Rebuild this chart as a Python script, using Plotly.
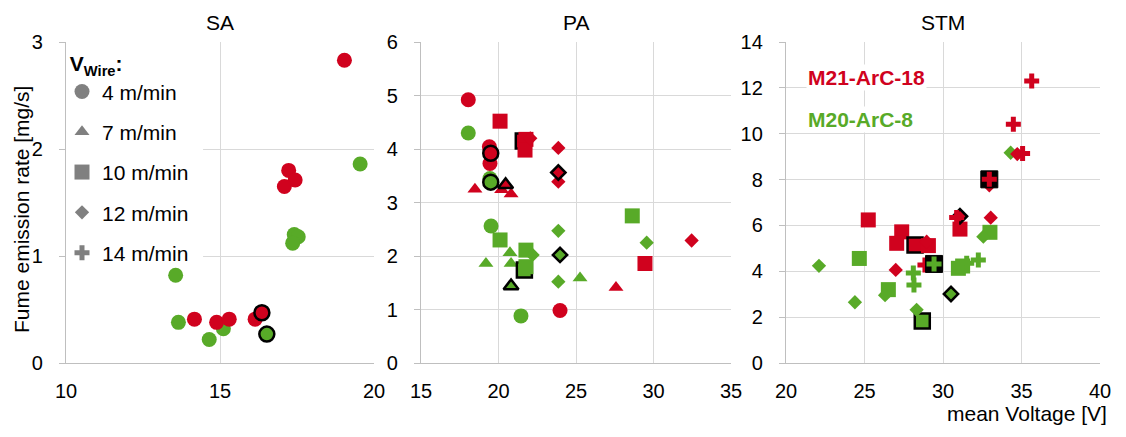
import plotly.graph_objects as go

# wire feed speeds and their marker symbols
WIRE_SPEEDS = [4, 7, 10, 12, 14]
WIRE_LABELS = ["4 m/min", "7 m/min", "10 m/min", "12 m/min", "14 m/min"]
SYMBOLS = ["circle", "triangle-up", "square", "diamond", "cross"]
SIZES = [15, 13, 15, 11, 12.5]

RED = "rgb(208,2,30)"
GREEN = "rgb(88,170,40)"
GAS_RED = "M21-ArC-18"
GAS_GREEN = "M20-ArC-8"

# SA (short arc)
SA_RED_V = [19.04, 17.23, 17.44, 17.09, 14.17, 14.89, 15.30, 16.14, 16.36]
SA_RED_RATE = [2.83, 1.80, 1.71, 1.65, 0.41, 0.38, 0.41, 0.41, 0.47]
SA_RED_WIRE = [4, 4, 4, 4, 4, 4, 4, 4, 4]
SA_RED_MEAN = [0, 0, 0, 0, 0, 0, 0, 0, 1]

SA_GREEN_V = [19.55, 17.41, 17.54, 17.36, 13.56, 13.65, 14.65, 15.11, 16.52]
SA_GREEN_RATE = [1.86, 1.20, 1.18, 1.12, 0.82, 0.38, 0.22, 0.32, 0.27]
SA_GREEN_WIRE = [4, 4, 4, 4, 4, 4, 4, 4, 4]
SA_GREEN_MEAN = [0, 0, 0, 0, 0, 0, 0, 0, 1]

# PA (pulsed arc)
PA_RED_V = [18.05, 19.41, 19.45, 23.97, 19.50,
            18.48, 20.20, 20.81, 27.58, 20.46,
            21.60, 20.10, 21.77, 21.71, 29.45,
            22.05, 23.86, 23.86, 32.46, 23.86]
PA_RED_RATE = [4.92, 4.04, 3.73, 0.98, 3.92,
               3.25, 3.24, 3.16, 1.41, 3.33,
               4.15, 4.52, 4.18, 3.98, 1.86,
               4.20, 4.02, 3.39, 2.29, 3.56]
PA_RED_WIRE = [4, 4, 4, 4, 4,
               7, 7, 7, 7, 7,
               10, 10, 10, 10, 10,
               12, 12, 12, 12, 12]
PA_RED_MEAN = [0, 0, 0, 0, 1,
               0, 0, 0, 0, 1,
               1, 0, 0, 0, 0,
               0, 0, 0, 0, 1]

PA_GREEN_V = [18.05, 19.45, 19.52, 21.45, 19.50,
              19.19, 20.74, 20.81, 25.26, 20.81,
              21.67, 20.10, 21.77, 21.77, 28.63,
              22.20, 23.86, 23.86, 29.56, 23.97]
PA_GREEN_RATE = [4.30, 3.45, 2.56, 0.88, 3.38,
                 1.86, 2.06, 1.86, 1.59, 1.44,
                 1.74, 2.30, 2.11, 1.80, 2.75,
                 2.02, 2.47, 1.52, 2.25, 2.02]
PA_GREEN_WIRE = [4, 4, 4, 4, 4,
                 7, 7, 7, 7, 7,
                 10, 10, 10, 10, 10,
                 12, 12, 12, 12, 12]
PA_GREEN_MEAN = [0, 0, 0, 0, 1,
                 0, 0, 0, 0, 1,
                 1, 0, 0, 0, 0,
                 0, 0, 0, 0, 1]

# STM
STM_RED_V = [25.24, 27.37, 27.05, 28.22, 29.07, 31.08,
             31.08, 26.99, 28.96, 33.04, 34.73, 32.95,
             35.65, 34.48, 35.07, 32.95, 30.87, 28.85]
STM_RED_RATE = [6.24, 5.72, 5.22, 5.15, 5.12, 5.84,
                6.40, 4.06, 5.29, 6.34, 9.11, 7.75,
                12.30, 10.41, 9.14, 8.01, 6.35, 4.27]
STM_RED_WIRE = [10, 10, 10, 10, 10, 10,
                12, 12, 12, 12, 12, 12,
                14, 14, 14, 14, 14, 14]
STM_RED_MEAN = [0, 0, 0, 1, 0, 0,
                1, 0, 0, 0, 0, 0,
                0, 0, 0, 1, 0, 0]

STM_GREEN_V = [24.67, 26.52, 28.68, 30.98, 31.25, 32.99,
               22.10, 24.39, 26.31, 28.32, 30.51, 32.57, 34.31,
               28.11, 28.15, 29.43, 31.51, 32.25]
STM_GREEN_RATE = [4.56, 3.20, 1.83, 4.13, 4.23, 5.70,
                  4.24, 2.65, 2.96, 2.32, 3.01, 5.51, 9.17,
                  3.93, 3.40, 4.32, 4.35, 4.49]
STM_GREEN_WIRE = [10, 10, 10, 10, 10, 10,
                  12, 12, 12, 12, 12, 12, 12,
                  14, 14, 14, 14, 14]
STM_GREEN_MEAN = [0, 0, 1, 0, 0, 0,
                  0, 0, 0, 0, 1, 0, 0,
                  0, 0, 1, 0, 0]

PANELS = ["SA", "PA", "STM"]
Y_MAX = [3, 6, 14]
Y_STEP = [1, 1, 2]
X_RANGES = [[10, 20], [15, 35], [20, 40]]

panel_data = [
    [(GREEN, SA_GREEN_V, SA_GREEN_RATE, SA_GREEN_WIRE, SA_GREEN_MEAN),
     (RED, SA_RED_V, SA_RED_RATE, SA_RED_WIRE, SA_RED_MEAN)],
    [(GREEN, PA_GREEN_V, PA_GREEN_RATE, PA_GREEN_WIRE, PA_GREEN_MEAN),
     (RED, PA_RED_V, PA_RED_RATE, PA_RED_WIRE, PA_RED_MEAN)],
    [(GREEN, STM_GREEN_V, STM_GREEN_RATE, STM_GREEN_WIRE, STM_GREEN_MEAN),
     (RED, STM_RED_V, STM_RED_RATE, STM_RED_WIRE, STM_RED_MEAN)],
]

# the page body adds 8px around the figure, so the figure is drawn 8px smaller
OFF = 8
W, H = 1126 - OFF, 437 - OFF
FONT = "Liberation Sans, Arial, sans-serif"


def fx(px):
    return (px - OFF) / W


def fy(py):
    return (H - (py - OFF)) / H


x_px = [(66, 374), (421, 731), (786, 1100)]
y_dom = [fy(363), fy(42)]

fig = go.Figure()

# legend entries (grey symbols)
for k, w in enumerate(WIRE_SPEEDS):
    fig.add_trace(go.Scatter(
        x=[None], y=[None], mode="markers", name=WIRE_LABELS[k],
        legendgroup=str(w), showlegend=True,
        marker=dict(symbol=SYMBOLS[k], size=SIZES[k], color="#808080", line=dict(width=0)),
    ))

for p in range(3):
    xa = "x" if p == 0 else "x%d" % (p + 1)
    ya = "y" if p == 0 else "y%d" % (p + 1)
    for k, w in enumerate(WIRE_SPEEDS):
        gases = panel_data[p] if w != 14 else panel_data[p][::-1]
        for color, vs, rs, ws, ms in gases:
            idx = [i for i in range(len(vs)) if ws[i] == w]
            if not idx:
                continue
            xs = [vs[i] for i in idx]
            ys = [rs[i] for i in idx]
            means = [ms[i] for i in idx]
            if w == 14:
                # averaged cross points sit on a black tile
                mx = [x for x, m in zip(xs, means) if m]
                my = [y for y, m in zip(ys, means) if m]
                if mx:
                    fig.add_trace(go.Scatter(
                        x=mx, y=my, xaxis=xa, yaxis=ya, mode="markers", showlegend=False,
                        marker=dict(symbol="square", size=17, color="black",
                                    line=dict(width=1, color="black")),
                    ))
                lw = [0] * len(xs)
            else:
                lw = [2.5 if m else 0 for m in means]
            fig.add_trace(go.Scatter(
                x=xs, y=ys, xaxis=xa, yaxis=ya, mode="markers", showlegend=False,
                legendgroup=str(w),
                marker=dict(symbol=SYMBOLS[k], size=SIZES[k], color=color,
                            line=dict(width=lw, color="black")),
            ))

axis_common = dict(
    showline=True, linecolor="#BFBFBF", linewidth=1.3,
    showgrid=True, gridcolor="#D9D9D9", gridwidth=1,
    zeroline=False, automargin=False,
    tickfont=dict(size=20, color="black", family=FONT),
)
layout = dict(
    template="none",
    width=W, height=H,
    margin=dict(l=0, r=0, t=0, b=0, autoexpand=False),
    paper_bgcolor="white", plot_bgcolor="white",
    font=dict(family=FONT, size=21, color="black"),
    showlegend=True,
    legend=dict(
        x=fx(62), y=fy(44), xanchor="left", yanchor="top",
        bgcolor="rgba(0,0,0,0)", borderwidth=0,
        title=dict(text="<b>&nbsp;V<sub>Wire</sub>:</b>", font=dict(size=21)),
        font=dict(size=21, color="black"),
        tracegroupgap=10, itemsizing="trace",
    ),
)
for p in range(3):
    sx = "" if p == 0 else str(p + 1)
    layout["xaxis" + sx] = dict(
        axis_common, domain=[fx(x_px[p][0]), fx(x_px[p][1])],
        range=X_RANGES[p], dtick=5, ticks="", ticklabelstandoff=10,
        anchor="y" + sx, fixedrange=True,
    )
    layout["yaxis" + sx] = dict(
        axis_common, domain=y_dom, range=[0, Y_MAX[p]], dtick=Y_STEP[p],
        ticks="outside", ticklen=6, tickcolor="#BFBFBF", ticklabelstandoff=12,
        anchor="x" + sx, fixedrange=True,
    )
fig.update_layout(**layout)

# white box behind the legend, over the gridlines
fig.add_shape(type="rect", xref="x", yref="y", x0=10, x1=14.45, y0=0.85, y1=2.93,
              fillcolor="white", line=dict(width=0), layer="between")

# panel titles
for p, name in enumerate(PANELS):
    fig.add_annotation(x=fx((x_px[p][0] + x_px[p][1]) / 2), y=fy(22),
                       xref="paper", yref="paper", xanchor="center", yanchor="middle",
                       text=name, showarrow=False, font=dict(size=21, color="black"))

fig.add_annotation(x=fx(21), y=fy(210), xref="paper", yref="paper",
                   xanchor="center", yanchor="middle",
                   text="Fume emission rate [mg/s]", textangle=-90, showarrow=False,
                   font=dict(size=21, color="black"))
fig.add_annotation(x=fx(1109), y=fy(413), xref="paper", yref="paper",
                   xanchor="right", yanchor="middle", text="mean Voltage [V]", showarrow=False,
                   font=dict(size=21, color="black"))

# gas labels in the STM panel
fig.add_annotation(x=fx(806), y=fy(77), xref="paper", yref="paper",
                   xanchor="left", yanchor="middle",
                   text="<b>%s</b>" % GAS_RED, showarrow=False, bgcolor="white",
                   font=dict(size=21, color=RED))
fig.add_annotation(x=fx(806), y=fy(119), xref="paper", yref="paper",
                   xanchor="left", yanchor="middle",
                   text="<b>%s</b>" % GAS_GREEN, showarrow=False, bgcolor="white",
                   font=dict(size=21, color=GREEN))

fig.write_html("out.html")
